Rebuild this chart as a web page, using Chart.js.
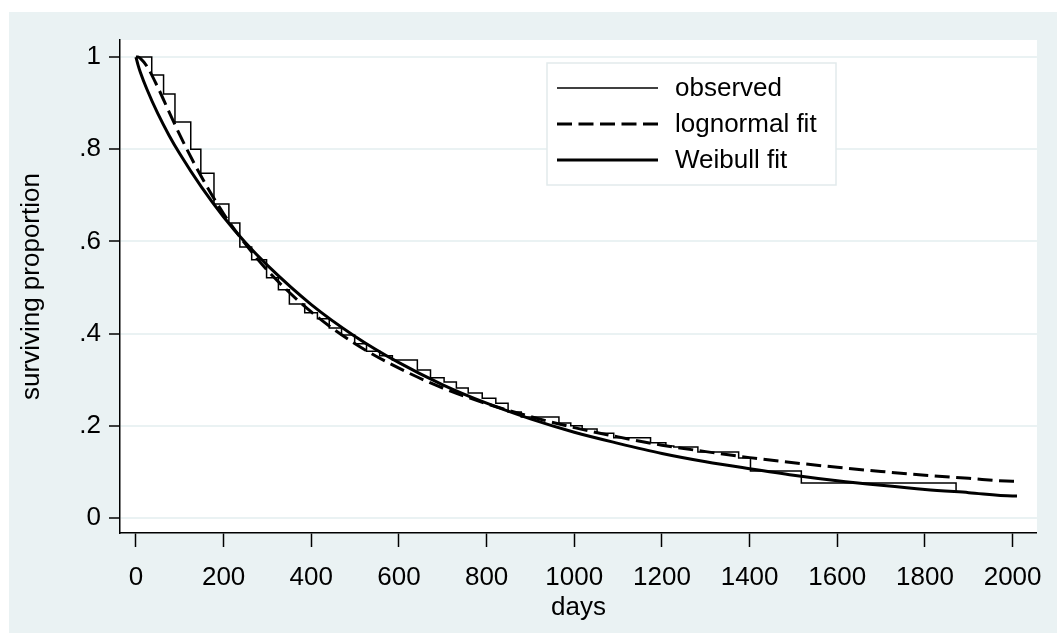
<!DOCTYPE html>
<html>
<head>
<meta charset="utf-8">
<script src="https://cdn.jsdelivr.net/npm/chart.js@4/dist/chart.umd.min.js"></script>
<style>
  body { margin: 0; background: #fff; }
  #survChart { display: block; }
</style>
</head>
<body>
<canvas id="survChart" width="1057" height="633"></canvas>
<script>
// Kaplan-Meier steps (day of drop, surviving proportion after it)
const kmDays = [0, 36, 63, 89, 125, 148, 178, 212, 237, 264, 298, 325, 350, 385, 414, 441, 469, 499, 526, 556,
                585, 642, 672, 703, 731, 758, 790, 821, 849, 879, 965, 992, 1018, 1052, 1090, 1174, 1209, 1227, 1282, 1375,
                1402, 1518, 1871];
const kmSurv = [1, 0.961, 0.920, 0.859, 0.800, 0.748, 0.681, 0.640, 0.588, 0.560, 0.521, 0.495, 0.464, 0.445, 0.432, 0.412, 0.397, 0.378, 0.362, 0.352,
                0.343, 0.321, 0.304, 0.295, 0.282, 0.271, 0.260, 0.249, 0.230, 0.219, 0.206, 0.200, 0.193, 0.184, 0.174, 0.163, 0.156, 0.154, 0.143, 0.130,
                0.102, 0.076, 0.054];

// fitted curves, estimated at these days
const fitDays   = [0, 5, 10, 25, 50, 75, 100, 150, 200, 250, 300, 400, 500, 600, 700, 800, 900, 1000,
                   1100, 1200, 1300, 1400, 1500, 1600, 1700, 1800, 1900, 2000, 2010];
const lognormal = [1, 1.0, 0.997, 0.980, 0.934, 0.882, 0.831, 0.739, 0.660, 0.594, 0.537, 0.447, 0.378, 0.325, 0.282, 0.248, 0.220, 0.196,
                   0.176, 0.158, 0.144, 0.131, 0.120, 0.110, 0.101, 0.093, 0.086, 0.080, 0.080];
const weibull   = [1, 0.982, 0.967, 0.930, 0.877, 0.831, 0.790, 0.717, 0.653, 0.597, 0.548, 0.463, 0.394, 0.337, 0.289, 0.249, 0.215, 0.186,
                   0.162, 0.140, 0.122, 0.107, 0.093, 0.081, 0.071, 0.062, 0.055, 0.048, 0.048];

const xTicks = [0, 200, 400, 600, 800, 1000, 1200, 1400, 1600, 1800, 2000];
const yTicks = [0, 0.2, 0.4, 0.6, 0.8, 1];
const yTickLabels = ['0', '.2', '.4', '.6', '.8', '1'];

const seriesLabels = ['observed', 'lognormal fit', 'Weibull fit'];

const toPoints = (xs, ys) => xs.map((x, i) => ({ x: x, y: ys[i] }));

const FONT = "'Liberation Sans', Arial, sans-serif";
const FSIZE = 26;
const BG = '#eaf2f3';

// Stata-like background: light outer region, white plot region
const backdrop = {
    id: 'backdrop',
    beforeDraw(chart) {
        const c = chart.ctx;
        const a = chart.chartArea;
        c.save();
        c.fillStyle = '#ffffff';
        c.fillRect(0, 0, chart.width, chart.height);
        c.fillStyle = BG;
        c.fillRect(9, 12, chart.width - 9, chart.height - 12);
        c.fillStyle = '#ffffff';
        c.fillRect(a.left, a.top, a.right - a.left, a.bottom - a.top);
        c.restore();
    }
};

// legend inside the plot, upper right
const legendBox = {
    id: 'legendBox',
    afterDatasetsDraw(chart) {
        const c = chart.ctx;
        const box = { x: 547, y: 63, w: 289, h: 122 };
        c.save();
        c.fillStyle = '#ffffff';
        c.fillRect(box.x, box.y, box.w, box.h);
        c.strokeStyle = '#e2eaec';
        c.lineWidth = 1.5;
        c.strokeRect(box.x, box.y, box.w, box.h);
        chart.data.datasets.forEach((ds, i) => {
            const y = 88 + i * 36;
            c.beginPath();
            c.strokeStyle = ds.borderColor;
            c.lineWidth = ds.borderWidth;
            c.setLineDash(ds.borderDash || []);
            c.moveTo(557, y);
            c.lineTo(658, y);
            c.stroke();
            c.setLineDash([]);
            c.fillStyle = '#000';
            c.font = FSIZE + 'px ' + FONT;
            c.textBaseline = 'middle';
            c.fillText(ds.label, 675, y + 1);
        });
        c.restore();
    }
};

const ctx = document.querySelector('#survChart').getContext('2d');
var chart = new Chart(ctx, {
    type: 'line',
    data: {
        datasets: [{
            label: seriesLabels[0],
            data: toPoints(kmDays, kmSurv),
            stepped: true,
            borderColor: '#000',
            borderWidth: 1.5,
            pointRadius: 0,
            order: 3
        }, {
            label: seriesLabels[1],
            data: toPoints(fitDays, lognormal),
            borderColor: '#000',
            borderWidth: 3,
            borderDash: [15, 6.5],
            cubicInterpolationMode: 'monotone',
            pointRadius: 0,
            order: 2
        }, {
            label: seriesLabels[2],
            data: toPoints(fitDays, weibull),
            borderColor: '#000',
            borderWidth: 3,
            cubicInterpolationMode: 'monotone',
            pointRadius: 0,
            order: 1
        }]
    },
    options: {
        responsive: false,
        animation: false,
        layout: {
            padding: { left: 9, top: 40, right: 18, bottom: 0 }
        },
        scales: {
            x: {
                type: 'linear',
                min: -36.4,
                max: 2055.5,
                afterBuildTicks: (scale) => { scale.ticks = xTicks.map(v => ({ value: v })); },
                afterFit: (scale) => { scale.height = 100; },
                grid: {
                    drawOnChartArea: false,
                    tickColor: '#000',
                    tickLength: 14,
                    tickWidth: 1.5
                },
                border: { display: true, color: '#000', width: 1.5 },
                ticks: {
                    color: '#000',
                    padding: 15,
                    maxRotation: 0,
                    autoSkip: false,
                    font: { family: FONT, size: FSIZE },
                    callback: (value) => String(value)
                },
                title: {
                    display: true,
                    text: 'days',
                    color: '#000',
                    font: { family: FONT, size: FSIZE },
                    padding: { top: 0, bottom: 10 }
                }
            },
            y: {
                type: 'linear',
                min: -0.0325,
                max: 1.0369,
                afterBuildTicks: (scale) => { scale.ticks = yTicks.map(v => ({ value: v })); },
                afterFit: (scale) => { scale.width = 111; },
                grid: {
                    color: BG,
                    lineWidth: 2,
                    tickColor: '#000',
                    tickLength: 11,
                    tickWidth: 1.5
                },
                border: { display: true, color: '#000', width: 1.5 },
                ticks: {
                    color: '#000',
                    padding: 8,
                    autoSkip: false,
                    font: { family: FONT, size: FSIZE },
                    callback: (value) => {
                        const i = yTicks.findIndex(t => Math.abs(t - value) < 1e-9);
                        return i >= 0 ? yTickLabels[i] : '';
                    }
                },
                title: {
                    display: true,
                    text: 'surviving proportion',
                    color: '#000',
                    font: { family: FONT, size: FSIZE },
                    padding: { top: 7, bottom: 0 }
                }
            }
        },
        plugins: {
            legend: { display: false },
            tooltip: { enabled: false }
        }
    },
    plugins: [backdrop, legendBox]
});
</script>
</body>
</html>
